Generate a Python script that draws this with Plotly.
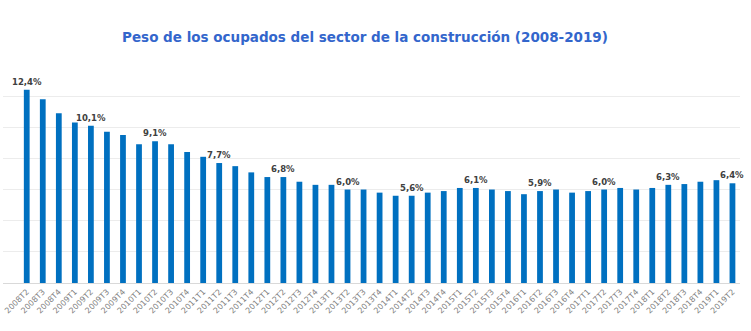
import plotly.graph_objects as go

categories = ["2008T2", "2008T3", "2008T4",
              "2009T1", "2009T2", "2009T3", "2009T4",
              "2010T1", "2010T2", "2010T3", "2010T4",
              "2011T1", "2011T2", "2011T3", "2011T4",
              "2012T1", "2012T2", "2012T3", "2012T4",
              "2013T1", "2013T2", "2013T3", "2013T4",
              "2014T1", "2014T2", "2014T3", "2014T4",
              "2015T1", "2015T2", "2015T3", "2015T4",
              "2016T1", "2016T2", "2016T3", "2016T4",
              "2017T1", "2017T2", "2017T3", "2017T4",
              "2018T1", "2018T2", "2018T3", "2018T4",
              "2019T1", "2019T2"]

values = [12.4, 11.8, 10.9,
          10.3, 10.1, 9.7, 9.5,
          8.9, 9.1, 8.9, 8.4,
          8.1, 7.7, 7.5, 7.1,
          6.8, 6.8, 6.5, 6.3,
          6.3, 6.0, 6.0, 5.8,
          5.6, 5.6, 5.8, 5.9,
          6.1, 6.1, 6.0, 5.9,
          5.7, 5.9, 6.0, 5.8,
          5.9, 6.0, 6.1, 6.0,
          6.1, 6.3, 6.35, 6.5,
          6.6, 6.4]

labelled = ["2008T2", "2009T2", "2010T2", "2011T2", "2012T2", "2013T2",
            "2014T2", "2015T2", "2016T2", "2017T2", "2018T2", "2019T2"]

fig = go.Figure(go.Bar(
    x=categories, y=values,
    marker=dict(color="#0070C0", line=dict(width=0)),
    width=0.36,
    hoverinfo="skip",
))

for c, v in zip(categories, values):
    if c in labelled:
        fig.add_annotation(
            x=c, y=v, xref="x", yref="y",
            text="<b>" + f"{v:.1f}".replace(".", ",") + "%</b>",
            showarrow=False, yanchor="bottom", yshift=1,
            font=dict(family="DejaVu Sans", size=8.5, color="#404040"),
        )

fig.update_layout(
    width=751, height=331,
    margin=dict(l=3, r=11, t=75, b=48),
    paper_bgcolor="#ffffff", plot_bgcolor="#ffffff",
    showlegend=False,
    title=dict(
        text="<b>Peso de los ocupados del sector de la construcción (2008-2019)</b>",
        x=365 / 751, xanchor="center", y=1 - 37 / 331, yanchor="middle",
        font=dict(family="DejaVu Sans", size=13.5, color="#3366CC"),
    ),
    xaxis=dict(
        type="category", range=[-1.48, 44.47],
        tickangle=-45, tickfont=dict(family="DejaVu Sans", size=8, color="#7f7f7f"),
        showgrid=False, showline=True, linecolor="#d9d9d9", linewidth=1,
        ticks="", fixedrange=True,
    ),
    yaxis=dict(
        range=[0, 13.35], dtick=2, showticklabels=False,
        showgrid=True, gridcolor="#ececec", gridwidth=1,
        zeroline=False, showline=False, ticks="",
    ),
)

fig.write_html("out.html")
